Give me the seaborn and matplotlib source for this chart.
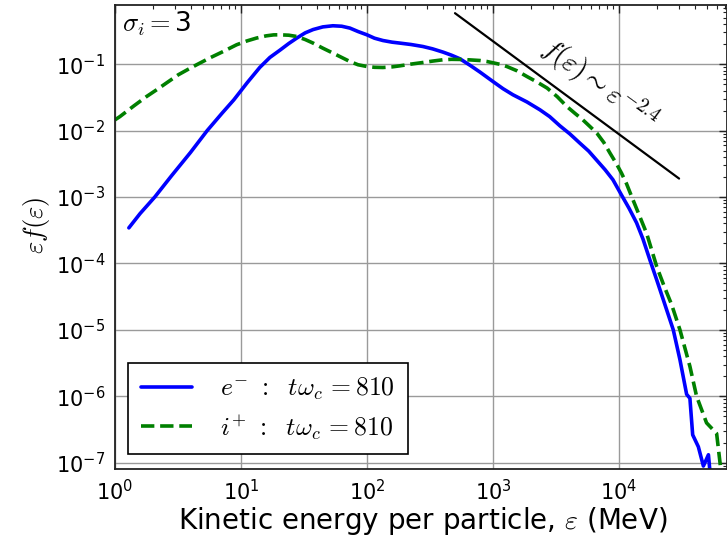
import numpy as np
import matplotlib
matplotlib.use("Agg")
import matplotlib.pyplot as plt
import seaborn as sns

# ---- data (log10 values) ----
e_logE = [0.111, 0.2, 0.317, 0.45, 0.6, 0.733, 0.85, 0.944, 1.05, 1.15, 1.23, 1.31, 1.38,
          1.442, 1.51, 1.573, 1.65, 1.730, 1.80, 1.865, 1.93, 2.0, 2.06, 2.127, 2.2, 2.262,
          2.35, 2.444, 2.52, 2.603, 2.67, 2.738, 2.82, 2.897, 3.0, 3.08, 3.159, 3.27, 3.373,
          3.45, 3.532, 3.61, 3.69, 3.76, 3.825, 3.89, 3.952, 4.02, 4.08, 4.14, 4.19, 4.246,
          4.30, 4.352, 4.431, 4.484, 4.537, 4.563, 4.585, 4.63, 4.67, 4.71, 4.73]
e_logf = [-3.465, -3.25, -3.0, -2.68, -2.33, -2.0, -1.74, -1.538, -1.28, -1.05, -0.9, -0.79, -0.69,
          -0.61, -0.53, -0.48, -0.44, -0.423, -0.43, -0.458, -0.51, -0.559, -0.61, -0.645, -0.67, -0.684,
          -0.705, -0.735, -0.77, -0.819, -0.865, -0.92, -1.02, -1.12, -1.262, -1.37, -1.462, -1.57, -1.688,
          -1.79, -1.93, -2.05, -2.19, -2.31, -2.45, -2.59, -2.74, -2.97, -3.17, -3.39, -3.63, -3.95,
          -4.25, -4.547, -5.0, -5.45, -5.97, -6.03, -6.58, -6.76, -7.05, -6.88, -7.3]

i_logE = [0.0, 0.04, 0.15, 0.25, 0.331, 0.42, 0.503, 0.58, 0.648, 0.75, 0.86, 0.966, 1.05,
          1.124, 1.2, 1.26, 1.31, 1.38, 1.442, 1.51, 1.573, 1.65, 1.730, 1.80, 1.865, 1.93,
          2.0, 2.06, 2.127, 2.2, 2.262, 2.35, 2.444, 2.52, 2.603, 2.67, 2.738, 2.82, 2.897,
          2.95, 3.0, 3.06, 3.11, 3.19, 3.27, 3.35, 3.43, 3.51, 3.587, 3.65, 3.714, 3.77,
          3.825, 3.88, 3.929, 3.98, 4.02, 4.06, 4.1, 4.16, 4.22, 4.3, 4.36, 4.418, 4.484,
          4.563, 4.616, 4.695, 4.775, 4.802, 4.83]
i_logf = [-1.84, -1.79, -1.63, -1.49, -1.387, -1.27, -1.161, -1.08, -1.011, -0.91, -0.81, -0.709, -0.65,
          -0.608, -0.575, -0.56, -0.559, -0.565, -0.584, -0.63, -0.684, -0.76, -0.834, -0.9, -0.961, -1.01,
          -1.036, -1.048, -1.051, -1.042, -1.026, -1.0, -0.976, -0.955, -0.935, -0.928, -0.93, -0.937, -0.946,
          -0.96, -0.98, -1.005, -1.036, -1.1, -1.187, -1.27, -1.361, -1.49, -1.639, -1.74, -1.84, -1.94,
          -2.04, -2.18, -2.34, -2.5, -2.64, -2.8, -2.99, -3.27, -3.55, -4.05, -4.35, -4.62, -5.0,
          -5.55, -6.0, -6.4, -6.56, -7.0, -7.5]

pl_E = [500.0, 3.0e4]      # power-law guide extent (MeV)
pl_logA = 3.545            # log10 amplitude of eps*f
pl_index = -1.4            # eps*f ~ eps^-1.4  (f ~ eps^-2.4)

e_label = r'$e^{-}\ :\ \ t\omega_c\,{=}810$'
i_label = r'$i^{+}\ :\ \ t\omega_c\,{=}810$'

e_E = 10 ** np.array(e_logE); e_f = 10 ** np.array(e_logf)
i_E = 10 ** np.array(i_logE); i_f = 10 ** np.array(i_logf)
pl_E = np.array(pl_E); pl_f = 10 ** pl_logA * pl_E ** pl_index

# ---- style ----
sns.set_style("white")
plt.rcParams['font.family'] = ['DejaVu Sans']
plt.rcParams['mathtext.fontset'] = 'cm'
plt.rcParams['text.color'] = 'black'
plt.rcParams['axes.labelcolor'] = 'black'

fig = plt.figure(figsize=(7.27, 5.37), dpi=100)
ax = fig.add_axes([0.158, 0.127, 0.842, 0.864])

sns.lineplot(x=e_E, y=e_f, ax=ax, color='#0000ff', lw=2.6, label=e_label,
             estimator=None, sort=False)
sns.lineplot(x=i_E, y=i_f, ax=ax, color='#008000', lw=2.6, ls='--', label=i_label,
             estimator=None, sort=False)
sns.lineplot(x=pl_E, y=pl_f, ax=ax, color='k', lw=1.6, estimator=None, sort=False,
             legend=False)

ax.set_xscale('log'); ax.set_yscale('log')
ax.set_xlim(1, 7.2e4)
ax.set_ylim(8.1e-8, 0.78)

ax.grid(True, which='major', color='#9a9a9a', lw=1.0)
ax.set_axisbelow(True)
for s in ax.spines.values():
    s.set_color('#222222'); s.set_linewidth(1.3)
ax.tick_params(which='both', direction='in', top=True, right=True, colors='#222222',
               labelcolor='black')
ax.tick_params(which='major', length=6, width=1.0, labelsize=15, pad=7)
ax.tick_params(which='minor', length=3, width=0.8)

ax.set_xlabel(r'Kinetic energy per particle, $\varepsilon$ (MeV)', fontsize=20)
ax.xaxis.set_label_coords(0.503, -0.078)
ax.set_ylabel(r'$\varepsilon f(\varepsilon)$', fontsize=19)
ax.yaxis.set_label_coords(-0.103, 0.525)

ax.text(0.011, 0.942, r'$\sigma_i=$3', transform=ax.transAxes, fontsize=19,
        va='baseline', ha='left')
ax.text(7000, 0.0488, r'$f(\varepsilon)\sim\varepsilon^{-2.4}$', fontsize=20,
        rotation=-36, rotation_mode='anchor', ha='center', va='center')

leg = ax.legend(loc='lower left', bbox_to_anchor=(0.021, 0.031), borderaxespad=0,
                fontsize=18.5, fancybox=False, framealpha=1, edgecolor='k',
                handlelength=2.0, handletextpad=1.1, labelspacing=0.4, borderpad=0.5)
leg.get_frame().set_linewidth(1.2)

fig.savefig('out.png', dpi=100)
